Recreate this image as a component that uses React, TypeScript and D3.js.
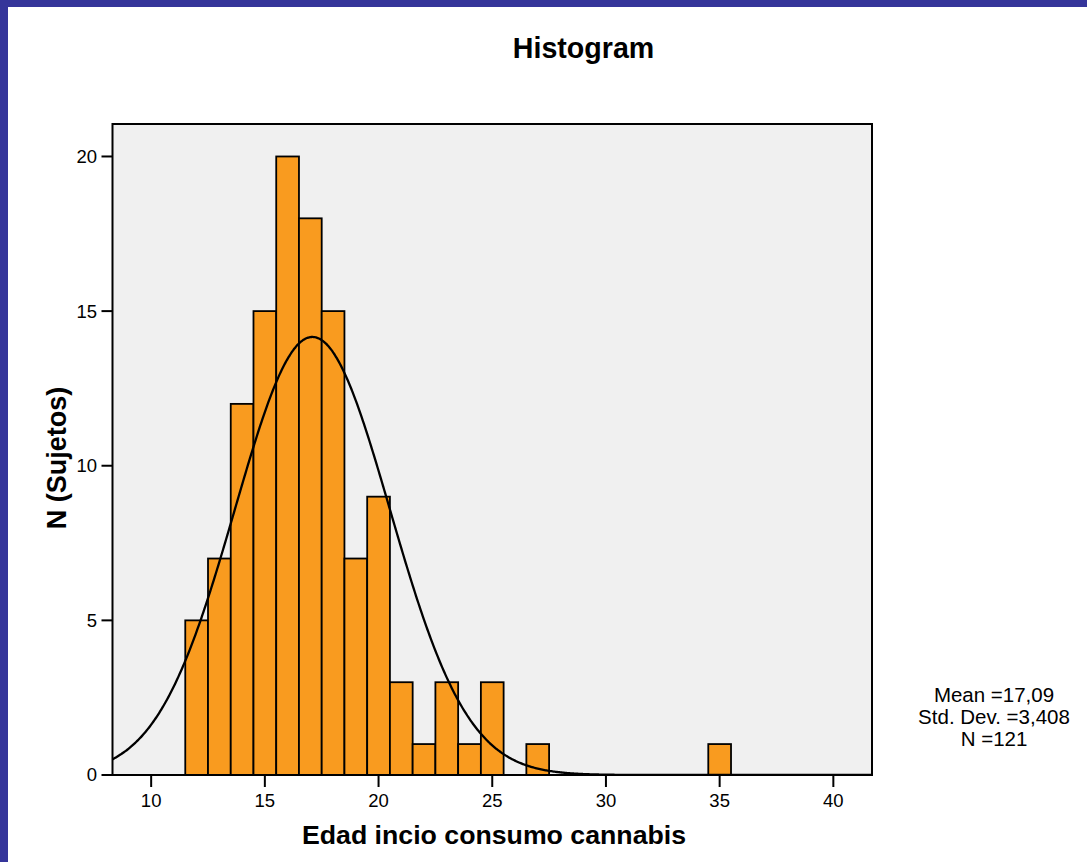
import { useRef, useEffect } from 'react';
import * as d3 from 'd3';

// bin centres (age) and counts
const AGES = [12, 13, 14, 15, 16, 17, 18, 19, 20, 21, 22, 23, 24, 25, 27, 35];
const COUNTS = [5, 7, 12, 15, 20, 18, 15, 7, 9, 3, 1, 3, 1, 3, 1, 1];
const X_TICKS = [10, 15, 20, 25, 30, 35, 40];
const Y_TICKS = [0, 5, 10, 15, 20];
const STATS_LINES = ['Mean =17,09', 'Std. Dev. =3,408', 'N =121'];
const MEAN = 17.09;
const SD = 3.408;
const N = 121;
const BIN = 1;

const W = 1087;
const H = 862;
const FONT = '"Liberation Sans", Arial, sans-serif';

export default function App() {
  const svgRef = useRef<SVGSVGElement>(null);

  useEffect(() => {
    const svg = d3.select(svgRef.current);
    svg.selectAll('*').remove();

    const left = 112.5;
    const right = 872;
    const top = 124;
    const bottom = 775;

    const x = d3.scaleLinear().domain([8.3, 41.7]).range([left, right]);
    const y = d3.scaleLinear().domain([0, 21.05]).range([bottom, top]);

    // page frame
    svg.append('rect').attr('width', W).attr('height', H).attr('fill', '#ffffff');
    svg.append('rect').attr('x', 0).attr('y', 0).attr('width', W).attr('height', 7).attr('fill', '#35359a');
    svg.append('rect').attr('x', 0).attr('y', 0).attr('width', 8).attr('height', H).attr('fill', '#35359a');

    // plot background
    svg.append('rect')
      .attr('x', left)
      .attr('y', top)
      .attr('width', right - left)
      .attr('height', bottom - top)
      .attr('fill', '#f0f0f0');

    svg.append('defs')
      .append('clipPath')
      .attr('id', 'plot-clip')
      .append('rect')
      .attr('x', left)
      .attr('y', top)
      .attr('width', right - left)
      .attr('height', bottom - top);

    // bars
    svg.append('g')
      .selectAll('rect')
      .data(AGES.map((a, i) => ({ a, c: COUNTS[i] })))
      .join('rect')
      .attr('x', (d) => x(d.a - BIN / 2))
      .attr('y', (d) => y(d.c))
      .attr('width', (d) => x(d.a + BIN / 2) - x(d.a - BIN / 2))
      .attr('height', (d) => y(0) - y(d.c))
      .attr('fill', '#f99b1f')
      .attr('stroke', '#000')
      .attr('stroke-width', 1.8);

    // fitted normal curve
    const peak = (N * BIN) / (SD * Math.sqrt(2 * Math.PI));
    const pts = d3.range(8.3, 41.7, 0.05).map((v) => [v, peak * Math.exp(-0.5 * ((v - MEAN) / SD) ** 2)]);
    svg.append('path')
      .datum(pts)
      .attr('clip-path', 'url(#plot-clip)')
      .attr('fill', 'none')
      .attr('stroke', '#000')
      .attr('stroke-width', 2.3)
      .attr('d', d3.line<number[]>().x((d) => x(d[0])).y((d) => y(d[1])).curve(d3.curveBasis));

    // plot frame
    svg.append('rect')
      .attr('x', left)
      .attr('y', top)
      .attr('width', right - left)
      .attr('height', bottom - top)
      .attr('fill', 'none')
      .attr('stroke', '#000')
      .attr('stroke-width', 2);

    // x axis
    const xa = svg.append('g').attr('font-family', FONT);
    X_TICKS.forEach((t) => {
      xa.append('line')
        .attr('x1', x(t)).attr('x2', x(t))
        .attr('y1', bottom).attr('y2', bottom + 12)
        .attr('stroke', '#000').attr('stroke-width', 2);
      xa.append('text')
        .attr('x', x(t)).attr('y', 807)
        .attr('text-anchor', 'middle')
        .attr('font-size', 18.5)
        .attr('fill', '#000')
        .text(t);
    });

    // y axis
    const ya = svg.append('g').attr('font-family', FONT);
    Y_TICKS.forEach((t) => {
      ya.append('line')
        .attr('x1', left - 11).attr('x2', left)
        .attr('y1', y(t)).attr('y2', y(t))
        .attr('stroke', '#000').attr('stroke-width', 2);
      ya.append('text')
        .attr('x', 97).attr('y', y(t))
        .attr('dy', '0.35em')
        .attr('text-anchor', 'end')
        .attr('font-size', 18.5)
        .attr('fill', '#000')
        .text(t);
    });

    // titles
    svg.append('text')
      .attr('x', 583.5).attr('y', 57.5)
      .attr('text-anchor', 'middle')
      .attr('font-family', FONT)
      .attr('font-weight', 'bold')
      .attr('font-size', 28.6)
      .text('Histogram');

    svg.append('text')
      .attr('x', 494).attr('y', 844)
      .attr('text-anchor', 'middle')
      .attr('font-family', FONT)
      .attr('font-weight', 'bold')
      .attr('font-size', 26.7)
      .text('Edad incio consumo cannabis');

    svg.append('text')
      .attr('transform', 'translate(66,458) rotate(-90)')
      .attr('text-anchor', 'middle')
      .attr('font-family', FONT)
      .attr('font-weight', 'bold')
      .attr('font-size', 27)
      .text('N (Sujetos)');

    // stats box
    svg.append('g')
      .selectAll('text')
      .data(STATS_LINES)
      .join('text')
      .attr('x', 994)
      .attr('y', (_, i) => 702 + i * 22)
      .attr('text-anchor', 'middle')
      .attr('font-family', FONT)
      .attr('font-size', 20.5)
      .attr('fill', '#000')
      .text((d) => d);
  }, []);

  return (
    <svg
      ref={svgRef}
      width={W}
      height={H}
      style={{ position: 'absolute', left: 0, top: 0, display: 'block' }}
    />
  );
}
